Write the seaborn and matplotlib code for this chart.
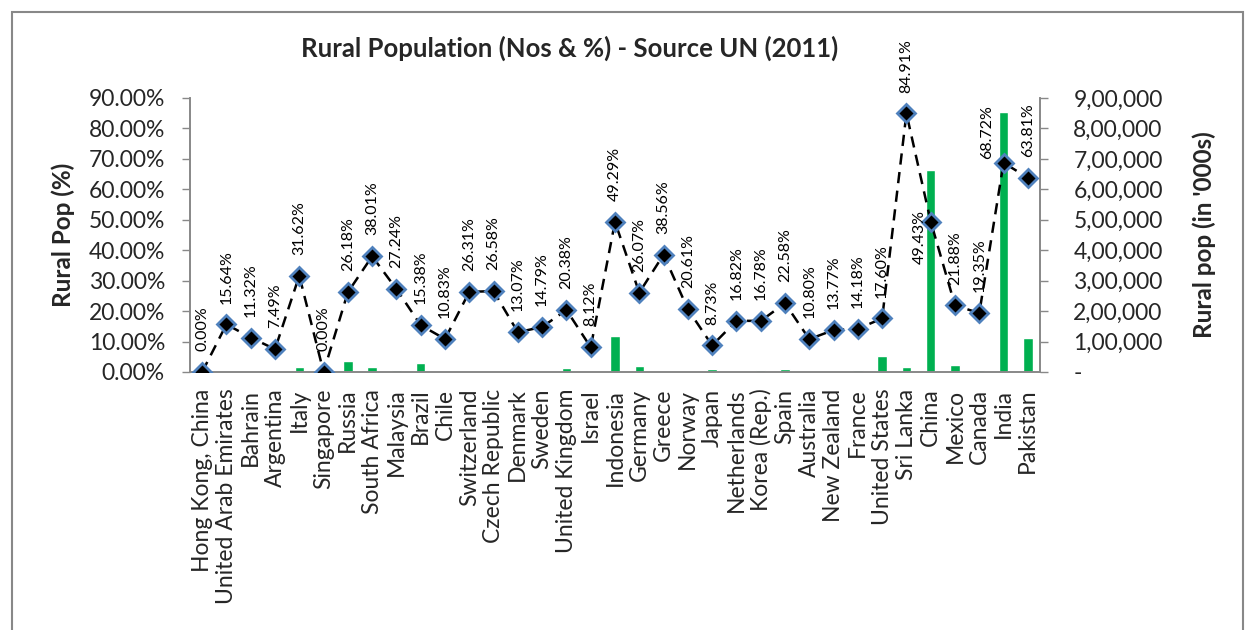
import numpy as np
import pandas as pd
import matplotlib
matplotlib.use("Agg")
import matplotlib.pyplot as plt
import matplotlib.patches as patches
from matplotlib.ticker import FuncFormatter, FixedLocator
import seaborn as sns

countries = ["Hong Kong, China", "United Arab Emirates", "Bahrain", "Argentina", "Italy",
             "Singapore", "Russia", "South Africa", "Malaysia", "Brazil", "Chile",
             "Switzerland", "Czech Republic", "Denmark", "Sweden", "United Kingdom",
             "Israel", "Indonesia", "Germany", "Greece", "Norway", "Japan", "Netherlands",
             "Korea (Rep.)", "Spain", "Australia", "New Zealand", "France", "United States",
             "Sri Lanka", "China", "Mexico", "Canada", "India", "Pakistan"]
rural_pct = [0.00, 15.64, 11.32, 7.49, 31.62, 0.00, 26.18, 38.01, 27.24, 15.38, 10.83,
             26.31, 26.58, 13.07, 14.79, 20.38, 8.12, 49.29, 26.07, 38.56, 20.61, 8.73,
             16.82, 16.78, 22.58, 10.80, 13.77, 14.18, 17.60, 84.91, 49.43, 21.88, 19.35,
             68.72, 63.81]
rural_pop = [0, 1200, 140, 3000, 18000, 0, 36000, 17500, 6000, 30000, 1800,
             2000, 2800, 730, 1400, 11500, 620, 118000, 19500, 4400, 1000, 9500,
             2800, 7000, 9500, 2400, 600, 7500, 53000, 17000, 665000, 24500, 5800,
             855000, 111000]

df = pd.DataFrame({"country": countries, "pct": rural_pct, "pop": rural_pop})
df["pos"] = np.arange(len(df))

sns.set_style("white")
plt.rcParams["font.family"] = ["Lato", "DejaVu Sans"]

TICK_FS = 16.5
LABEL_FS = 17.5

fig = plt.figure(figsize=(12.48, 6.30), dpi=100)
ax = fig.add_axes([190 / 1248, 1 - 372 / 630, 850 / 1248, 274 / 630])

# bars on the base axes (drawn behind), shown with right-hand scale
sns.barplot(data=df, x="country", y="pop", color="#00B050", width=0.39,
            saturation=1, ax=ax, zorder=1)
ax.set_ylim(0, 900000)
ax.set_xlim(-0.5, len(df) - 0.5)

# line on twin axes (drawn on top), shown with left-hand scale
ax2 = ax.twinx()
sns.lineplot(data=df, x="pos", y="pct", ax=ax2, color="black", linestyle=(0, (4.5, 3)),
             linewidth=1.8, marker="D", markersize=9, markerfacecolor="black",
             markeredgecolor="#4F81BD", markeredgewidth=2.0, zorder=3)
ax2.set_xlim(-0.5, len(df) - 0.5)

ax.yaxis.tick_right()
ax.yaxis.set_label_position("right")
ax2.yaxis.tick_left()
ax2.yaxis.set_label_position("left")

ax.set_yticks(np.arange(0, 900001, 100000))

def indian_fmt(v, p):
    v = int(round(v))
    if v == 0:
        return "-"
    s = str(v)
    last3 = s[-3:]
    rest = s[:-3]
    parts = []
    while len(rest) > 2:
        parts.insert(0, rest[-2:])
        rest = rest[:-2]
    if rest:
        parts.insert(0, rest)
    return ",".join(parts + [last3])

ax.yaxis.set_major_formatter(FuncFormatter(indian_fmt))
ax.set_ylabel("Rural pop (in '000s)", fontsize=LABEL_FS, fontweight="bold", labelpad=21)
ax.set_xlabel("")

ax2.set_ylim(0, 90)
ax2.set_yticks(np.arange(0, 91, 10))
ax2.yaxis.set_major_formatter(FuncFormatter(lambda v, p: f"{v:.2f}%"))
ax2.set_ylabel("Rural Pop (%)", fontsize=LABEL_FS, fontweight="bold", labelpad=10)
ax2.set_xlabel("")

# data labels (a few nudged as in the original chart)
label_nudge = {"China": ((-8, -11.5), "center"),
               "India": ((-12, 3), "bottom")}
for i, (c, v) in enumerate(zip(df["country"], df["pct"])):
    off, va = label_nudge.get(c, ((0, 15), "bottom"))
    ax2.annotate(f"{v:.2f}%", (i, v), xytext=off, textcoords="offset points",
                 rotation=90, ha="center", va=va, fontsize=11.5, color="black",
                 annotation_clip=False)

# x axis ticks/labels
ax.set_xticks(df["pos"])
ax.set_xticklabels(countries, rotation=90, fontsize=TICK_FS)
ax.xaxis.set_minor_locator(FixedLocator(np.arange(-0.5, len(df), 1)))
ax.tick_params(axis="x", which="major", length=0, pad=12)
ax.tick_params(axis="x", which="minor", length=6, color="#888888", width=1)
ax.tick_params(axis="y", labelsize=TICK_FS, length=6, color="#888888", width=1, pad=18,
               direction="out", left=False, labelleft=False, right=True, labelright=True)
ax2.tick_params(axis="y", labelsize=TICK_FS, length=6, color="#888888", width=1, pad=12,
                direction="out", right=False, labelright=False, left=True, labelleft=True)
ax2.tick_params(axis="x", length=0, labelbottom=False)

for a in (ax, ax2):
    a.spines["top"].set_visible(False)
    for s in ("left", "right", "bottom"):
        a.spines[s].set_color("#888888")
        a.spines[s].set_linewidth(1.2)
    a.grid(False)

fig.suptitle("Rural Population (Nos & %) - Source UN (2011)", fontsize=18.5,
             fontweight="bold", x=570 / 1248, y=1 - 48 / 630, va="center")

border = patches.Rectangle((12 / 1248, -0.02), 1231 / 1248, (630 - 12) / 630 + 0.02,
                           transform=fig.transFigure, fill=False,
                           edgecolor="#888888", linewidth=1.5)
fig.patches.append(border)

fig.savefig("out.png", dpi=100)
